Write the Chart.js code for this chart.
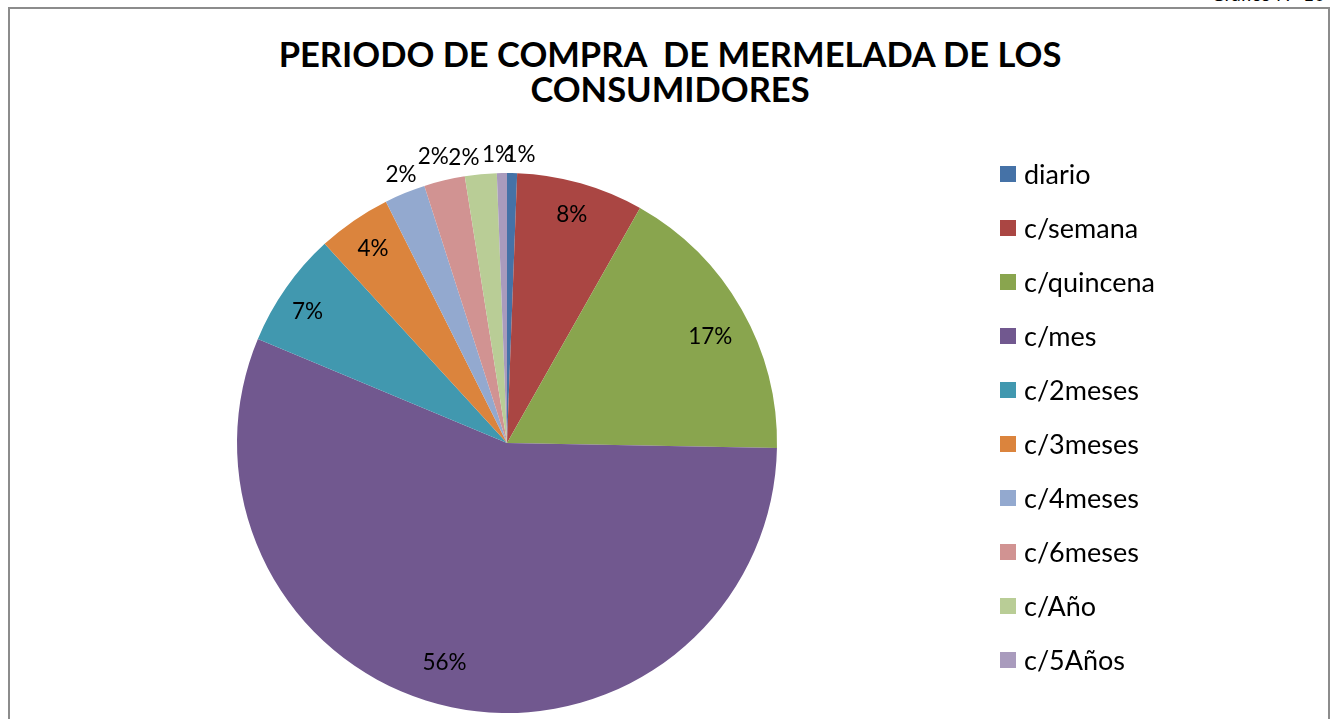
<!DOCTYPE html>
<html>
<head>
<meta charset="utf-8">
<script src="https://cdn.jsdelivr.net/npm/chart.js@4"></script>
<style>
  html,body{margin:0;padding:0;background:#fff;width:1333px;height:719px;overflow:hidden;font-family:Lato, "Open Sans", sans-serif;}
  #frame{position:absolute;left:8px;top:7px;width:1322px;height:760px;border-left:2px solid #8c8c8c;border-top:2px solid #8c8c8c;border-right:2px solid #8c8c8c;box-sizing:border-box;}
  #cut{position:absolute;right:8px;top:-18px;font-size:19px;color:#000;}
  #title{position:absolute;left:220px;width:900px;top:36px;text-align:center;font-weight:bold;font-size:34.5px;line-height:35px;color:#000;}
  #wrap{position:absolute;left:0;top:0;width:1333px;height:719px;}
  #legend{position:absolute;left:1000px;top:160px;}
  .li{height:54px;display:flex;align-items:flex-start;font-size:27px;line-height:27px;color:#000;}
  .sw{width:16px;height:16px;margin-top:6px;margin-right:8px;flex:none;}
</style>
</head>
<body>
<div id="cut">Gráfico Nº 10</div>
<div id="frame"></div>
<div id="title">PERIODO DE COMPRA&nbsp; DE MERMELADA DE LOS<br>CONSUMIDORES</div>
<div id="wrap"><canvas id="c" width="1333" height="719"></canvas></div>
<div id="legend"></div>
<script>
const categories = ["diario","c/semana","c/quincena","c/mes","c/2meses","c/3meses","c/4meses","c/6meses","c/Año","c/5Años"];
const values = [0.6, 7.6, 17.1, 56.0, 6.9, 4.4, 2.45, 2.45, 1.9, 0.6];
const colors = ["#4572A7","#AA4643","#89A54E","#71588F","#4198AF","#DB843D","#93A9CF","#D19392","#B9CD96","#A99BBD"];
// label placement styles: radius factor and angular nudge (degrees)
const labelRadius = [1.067, 0.88, 0.85, 0.845, 0.885, 0.875, 1.07, 1.096, 1.07, 1.067];
const labelShift = [1.5, 0, 2, 4, -1.7, 0, 0.7, -1, -3, -0.8];

const leg = document.getElementById('legend');
categories.forEach((c,i)=>{
  const d=document.createElement('div');d.className='li';
  d.innerHTML='<span class="sw" style="background:'+colors[i]+'"></span><span>'+c+'</span>';
  leg.appendChild(d);
});

const labelPlugin = {
  id:'pctLabels',
  afterDatasetsDraw(chart){
    const ctx=chart.ctx;
    const meta=chart.getDatasetMeta(0);
    const total=values.reduce((a,b)=>a+b,0);
    ctx.save();
    ctx.font='22.5px Lato, "Open Sans", sans-serif';
    ctx.fillStyle='#000';
    ctx.textAlign='center';
    ctx.textBaseline='middle';
    meta.data.forEach((arc,i)=>{
      const p=arc.getProps(['x','y','startAngle','endAngle','outerRadius'],true);
      const mid=(p.startAngle+p.endAngle)/2 + labelShift[i]*Math.PI/180;
      const r=p.outerRadius*labelRadius[i];
      const x=p.x+Math.cos(mid)*r, y=p.y+Math.sin(mid)*r;
      ctx.fillText(Math.round(values[i]/total*100)+'%', x, y);
    });
    ctx.restore();
  }
};

new Chart(document.getElementById('c'),{
  type:'pie',
  data:{labels:categories,datasets:[{data:values,backgroundColor:colors,borderWidth:0}]},
  options:{
    responsive:false,animation:false,
    layout:{padding:{left:237,top:173,right:556,bottom:6}},
    plugins:{legend:{display:false},title:{display:false},tooltip:{enabled:false}}
  },
  plugins:[labelPlugin]
});
</script>
</body>
</html>
